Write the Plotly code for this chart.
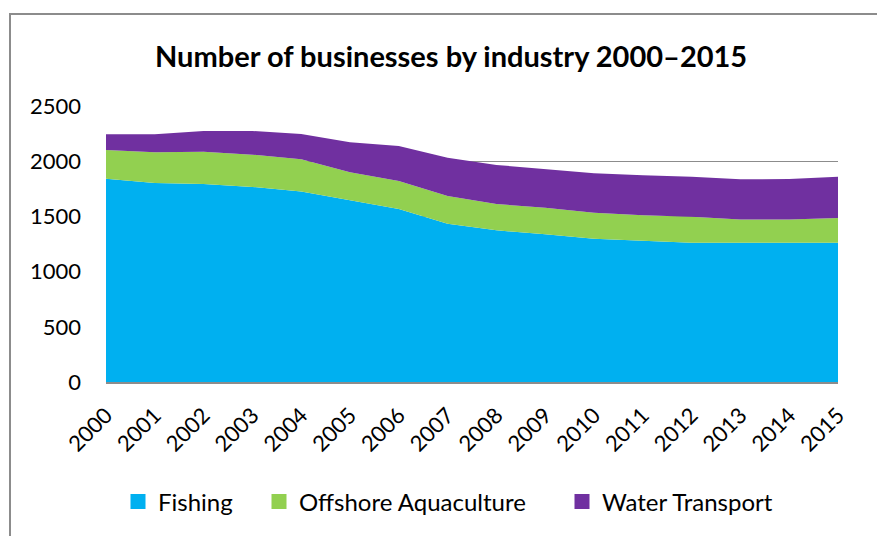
import plotly.graph_objects as go

years = list(range(2000, 2016))
fishing = [1841, 1803, 1794, 1767, 1726, 1649, 1567, 1434, 1374, 1338, 1298, 1280, 1262, 1262, 1262, 1262]
aquaculture = [260, 277, 292, 292, 291, 250, 254, 251, 238, 241, 236, 230, 235, 211, 211, 224]
water_transport = [143, 164, 188, 215, 229, 272, 317, 347, 354, 348, 356, 362, 363, 363, 366, 374]

series_names = ["Fishing", "Offshore Aquaculture", "Water Transport"]
series_values = [fishing, aquaculture, water_transport]
series_colors = ["#00B0F0", "#92D050", "#7030A0"]
legend_square_centers = [143, 284, 587]  # px, where each legend swatch sits

FONT = "Lato, Carlito, Calibri, sans-serif"
W, H = 877, 536
L, R, T, B = 106, 838, 106, 382

fig = go.Figure()
for name, vals, col in zip(series_names, series_values, series_colors):
    fig.add_trace(go.Scatter(
        x=years, y=vals, name=name, mode="lines",
        stackgroup="one", line=dict(width=0, color=col),
        fillcolor=col, showlegend=False,
    ))

legend_ids = ["legend", "legend2", "legend3"]
legend_layout = {}
for i, (name, col) in enumerate(zip(series_names, series_colors)):
    fig.add_trace(go.Scatter(
        x=[None], y=[None], name=name, mode="markers",
        marker=dict(symbol="square", size=15, color=col),
        showlegend=True, legend=legend_ids[i],
    ))
    legend_layout[legend_ids[i]] = dict(
        orientation="h", x=(legend_square_centers[i] - 25) / W, xref="container",
        xanchor="left", y=1 - 502 / H, yref="container", yanchor="middle",
        font=dict(size=24, family=FONT), bgcolor="rgba(0,0,0,0)",
    )

fig.update_layout(
    width=W, height=H,
    margin=dict(l=L, r=W - R, t=T, b=H - B, autoexpand=False),
    paper_bgcolor="white", plot_bgcolor="white",
    font=dict(family=FONT, size=22, color="black"),
    showlegend=True,
    annotations=[dict(text="<b>Number of businesses by industry 2000–2015</b>",
                      xref="paper", yref="paper",
                      x=(451 - L) / (R - L), y=(B - 55) / (B - T),
                      xanchor="center", yanchor="middle", showarrow=False,
                      font=dict(size=29, family=FONT, color="black"))],
    shapes=[dict(type="rect", xref="paper", yref="paper",
                 x0=(10 - L) / (R - L), x1=(885 - L) / (R - L),
                 y0=(B - 545) / (B - T), y1=(B - 14) / (B - T),
                 line=dict(color="#8c8c8c", width=2), fillcolor="rgba(0,0,0,0)",
                 layer="below")],
    **legend_layout,
)
fig.update_xaxes(range=[2000, 2015], tickmode="array", tickvals=years,
                 ticktext=[str(y) for y in years], tickangle=-45,
                 showgrid=False, showline=True, linecolor="#8c8c8c", linewidth=1.5,
                 ticks="", zeroline=False, automargin=False, ticklabelstandoff=10)
fig.update_yaxes(range=[0, 2500], dtick=500, showgrid=True, gridcolor="#8c8c8c",
                 gridwidth=1.3, ticks="", zeroline=False, showline=False,
                 ticklabelstandoff=24, automargin=False)

fig.write_html("out.html", config={"displayModeBar": False},
               post_script="document.body.style.margin='0px';")
